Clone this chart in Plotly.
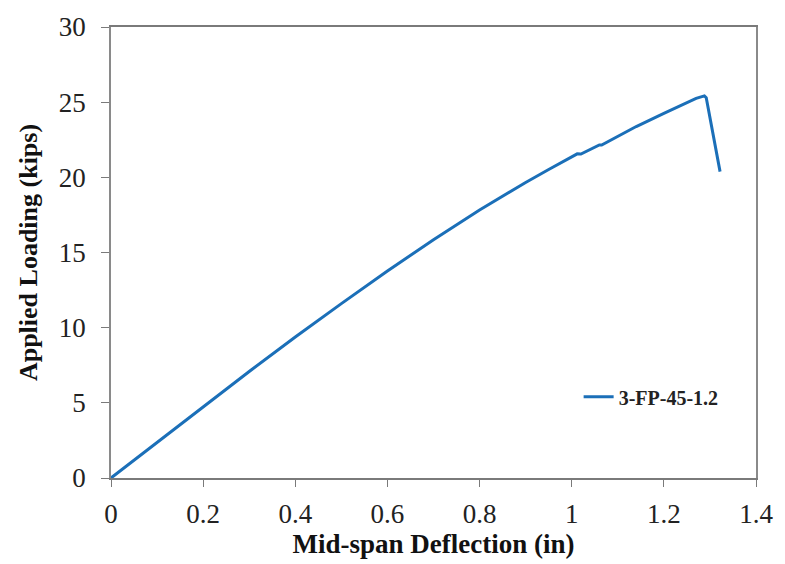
import plotly.graph_objects as go

# Load–deflection record for specimen 3-FP-45-1.2
deflection_in = [0, 0.05, 0.1, 0.2, 0.3, 0.4, 0.45, 0.5, 0.6, 0.65, 0.7, 0.8,
                 0.86, 0.9, 0.95, 1.0, 1.012, 1.02, 1.03, 1.06, 1.065, 1.1, 1.14, 1.2,
                 1.227, 1.25, 1.27, 1.288, 1.292, 1.322]
load_kips = [0, 1.19, 2.38, 4.75, 7.08, 9.38, 10.5, 11.6, 13.77, 14.83, 15.85, 17.83,
             18.95, 19.66, 20.52, 21.37, 21.56, 21.55, 21.7, 22.15, 22.15, 22.75,
             23.38, 24.25, 24.63, 24.95, 25.25, 25.42, 25.3, 20.38]
series_name = "3-FP-45-1.2"

x_ticks = [0, 0.2, 0.4, 0.6, 0.8, 1, 1.2, 1.4]
y_ticks = [0, 5, 10, 15, 20, 25, 30]

serif = "Liberation Serif, Times New Roman, serif"

fig = go.Figure()
fig.add_trace(go.Scatter(
    x=deflection_in, y=load_kips, mode="lines", name=series_name,
    line=dict(color="#1b6fb8", width=3),
))

fig.update_layout(
    width=785, height=564,
    margin=dict(l=111, r=25, t=21, b=86),
    paper_bgcolor="white", plot_bgcolor="white",
    font=dict(family=serif, color="#222222"),
    showlegend=True,
    legend=dict(
        x=0.725, y=0.18, xanchor="left", yanchor="middle",
        bgcolor="rgba(0,0,0,0)", itemwidth=30,
        font=dict(family=serif, size=20, color="#222222", weight="bold"),
    ),
    xaxis=dict(
        range=[0, 1.4], tickvals=x_ticks, ticktext=[f"{v:g}" for v in x_ticks],
        showgrid=False, zeroline=False,
        showline=True, linecolor="#7a7a7a", linewidth=1.5, mirror=True,
        ticks="outside", ticklen=7, tickcolor="#7a7a7a", ticklabelstandoff=4,
        tickfont=dict(size=27, family=serif, color="#222222"),
        title=dict(text="Mid-span Deflection (in)", standoff=4,
                   font=dict(size=27, family=serif, color="#111111", weight="bold")),
    ),
    yaxis=dict(
        range=[0, 30], tickvals=y_ticks,
        showgrid=False, zeroline=False,
        showline=True, linecolor="#8a8a8a", linewidth=1.5, mirror=True,
        ticks="outside", ticklen=8, tickcolor="#7a7a7a", ticklabelstandoff=10,
        tickfont=dict(size=27, family=serif, color="#222222"),
        title=dict(text="Applied Loading (kips)", standoff=14,
                   font=dict(size=26, family=serif, color="#111111", weight="bold")),
    ),
)

fig.write_html("out.html")
